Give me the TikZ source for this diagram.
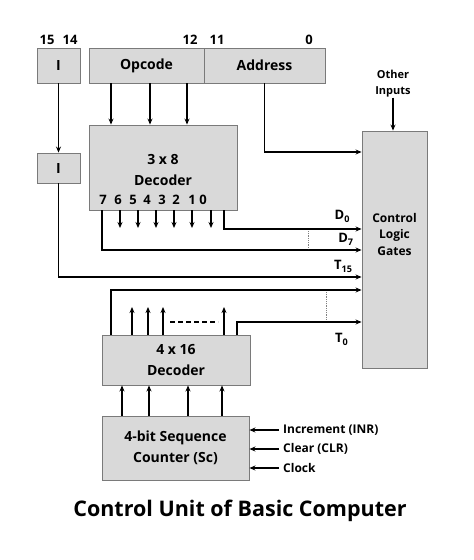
\documentclass[tikz,border=0pt]{standalone}
\usepackage{fontspec}
\setmainfont{Open Sans}
\usetikzlibrary{positioning,arrows.meta}
\definecolor{boxfill}{HTML}{D9D9D9}
\definecolor{boxline}{HTML}{7A7A7A}
\tikzset{
    blk/.style={draw=boxline,fill=boxfill,line width=0.9pt,inner sep=0pt,align=center,font=\bfseries\fontsize{14}{17}\selectfont},
    wire/.style={line width=1.3pt,-{Stealth[length=6pt,width=5pt]}},
    txt/.style={inner sep=0pt,align=center,font=\bfseries\fontsize{13}{15}\selectfont},
}
\begin{document}
\begin{tikzpicture}[x=1pt,y=-1pt]
    \useasboundingbox (0,0) rectangle (474,560);
    % instruction register
    \node[blk,minimum width=43,minimum height=35] (regI) at (58.5,65.5) {I};
    \node[blk,minimum width=115,minimum height=35] (opc) at (146.5,65.5) {Opcode};
    \node[blk,minimum width=121,minimum height=35] (adr) at (264.5,65.5) {Address};
    \foreach \b/\x in {15/47,14/70,12/190,11/217,0/309}
        \node[txt] at (\x,40) {\b};
    % blocks
    \node[blk,minimum width=43,minimum height=30] (regII) at (58.5,168) {I};
    \node[blk,minimum width=148,minimum height=85] (dec38) at (163,167.5) {};
    \node[txt,font=\bfseries\fontsize{14}{21}\selectfont] (dec38txt) at (163,170) {3 x 8\\Decoder};
    \node[blk,minimum width=65,minimum height=237] (ctl) at (394.5,249.5) {};
    \node[txt,font=\bfseries\fontsize{12}{16.5}\selectfont] (ctltxt) at (394.5,234) {Control\\Logic\\Gates};
    \node[txt,font=\bfseries\fontsize{11}{16}\selectfont] (other) at (393,84) {Other\\Inputs};
    \node[blk,minimum width=148,minimum height=50,font=\bfseries\fontsize{14}{21}\selectfont] (dec416) at (176,360) {4 x 16\\Decoder};
    \node[blk,minimum width=147,minimum height=64,font=\bfseries\fontsize{14}{21}\selectfont] (sc) at (175.5,448) {4-bit Sequence\\Counter (Sc)};
    % register to decoder
    \draw[wire] (regI) -- (regII);
    \foreach \x in {111,150,187}
        \draw[wire] (opc.south -| \x,0) -- (dec38.north -| \x,0);
    \draw[wire] (adr.south) |- (ctl.west |- 0,152);
    \draw[wire] (other) -- (ctl.north -| other);
    % 3x8 decoder outputs
    \foreach \n/\x in {7/103,6/118,5/133,4/147,3/162,2/176,1/192,0/203}
        \node[txt] at (\x,200) {\n};
    \foreach \x in {120,138,156,174,192,211}
        \draw[wire] (dec38.south -| \x,0) -- (\x,228);
    \draw[wire] (dec38.south -| 224,0) |- (ctl.west |- 0,229) node[pos=0.93,above=6pt,txt] {D\textsubscript{0}};
    \draw[wire] (dec38.south -| 102,0) |- (ctl.west |- 0,250) node[pos=0.97,above=4pt,txt] {D\textsubscript{7}};
    \draw[gray,densely dotted,line width=0.8pt] (308,231) -- (308,249);
    \draw[wire] (regII) |- (ctl.west |- 0,277) node[pos=0.97,above=4pt,txt] {T\textsubscript{15}};
    % 4x16 decoder outputs
    \draw[wire] (dec416.north -| 111,0) |- (ctl.west |- 0,290);
    \foreach \x in {132,148,163,224}
        \draw[wire] (dec416.north -| \x,0) -- (\x,307);
    \draw[line width=1.8pt,dash pattern=on 5pt off 3pt] (170,322) -- (218,322);
    \draw[wire] (dec416.north -| 237,0) |- (ctl.west |- 0,322) node[pos=0.92,below=11pt,txt] {T\textsubscript{0}};
    \draw[gray,densely dotted,line width=0.8pt] (326,292) -- (326,320);
    % sequence counter
    \foreach \x in {122,149,188,222}
        \draw[wire] (sc.north -| \x,0) -- (dec416.south -| \x,0);
    \foreach \t/\y in {Increment (INR)/430,Clear (CLR)/449,Clock/468}{
        \node[txt,anchor=west,font=\bfseries\fontsize{12}{13}\selectfont] (in\y) at (283,\y) {\t};
        \draw[wire] (in\y.west) ++(-4,0) -- (sc.east |- 0,\y);
    }
    \node[txt,font=\bfseries\fontsize{21.5}{25}\selectfont] (title) at (240,511) {Control Unit of Basic Computer};
\end{tikzpicture}
\end{document}
